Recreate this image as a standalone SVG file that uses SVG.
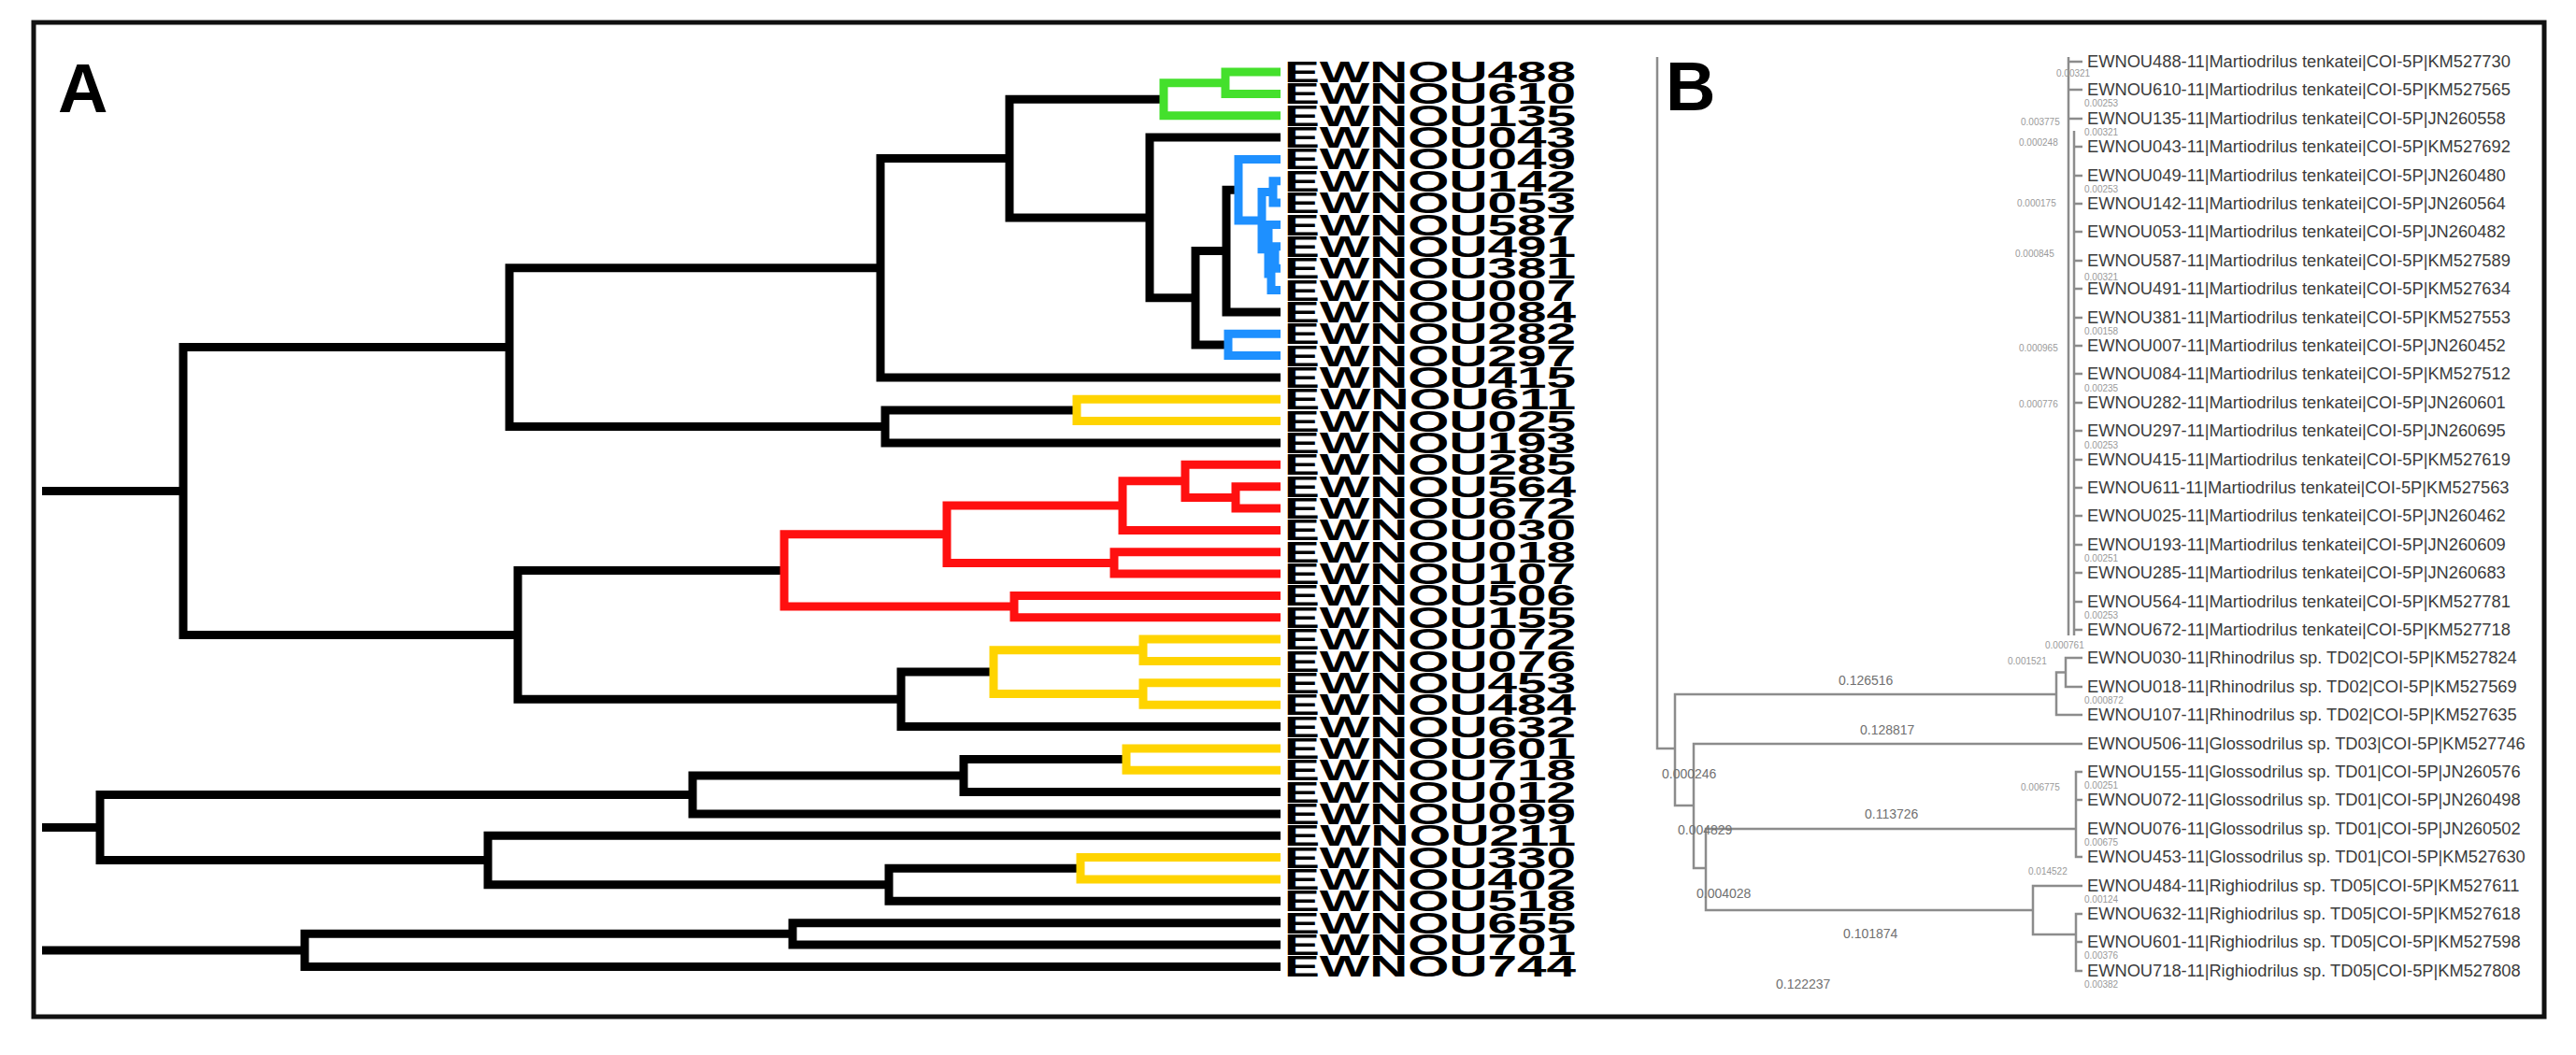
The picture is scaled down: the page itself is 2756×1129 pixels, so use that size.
<svg xmlns="http://www.w3.org/2000/svg" width="2756" height="1129" viewBox="0 0 2756 1129">
<style>
.bk{fill:none;stroke:#000;stroke-width:9;stroke-linejoin:miter}
.gr{fill:none;stroke:#44e02c;stroke-width:9}
.bl{fill:none;stroke:#1e90ff;stroke-width:9}
.ye{fill:none;stroke:#ffd400;stroke-width:9}
.rd{fill:none;stroke:#ff1010;stroke-width:9}
.la{font-family:"Liberation Sans",Arial,sans-serif;font-size:31px;font-weight:bold;fill:#000}
.tb{fill:none;stroke:#8c8c8c;stroke-width:2.5}
.lb{font-family:"Liberation Sans",Arial,sans-serif;font-size:18.3px;fill:#3c3c3c}
.bv{font-family:"Liberation Sans",Arial,sans-serif;font-size:14px;fill:#707070}
.sv{font-family:"Liberation Sans",Arial,sans-serif;font-size:10px;fill:#9a9a9a}
.pl{font-family:"Liberation Sans",Arial,sans-serif;font-size:74px;font-weight:bold;fill:#000}
</style>
<rect x="0" y="0" width="2756" height="1129" fill="#fff"/>
<rect x="36" y="24" width="2686" height="1064" fill="none" stroke="#111" stroke-width="5"/>
<text class="pl" x="62" y="120">A</text>
<text class="pl" x="1782" y="118">B</text>

<g id="treeA-connectors">
<!-- tree 1 -->
<path class="bk" d="M45 525.5H196"/>
<path class="bk" d="M545 371.6H196V679.4H554"/>
<path class="bk" d="M942 286.8H545V456.5H947"/>
<path class="bk" d="M1080 169.6H942V403.9H1370"/>
<path class="bk" d="M1245 106.2H1080V233H1230"/>
<path class="gr" d="M1311 88.7H1245V123.7H1370"/>
<path class="gr" d="M1370 77H1311V100.4H1370"/>
<path class="bk" d="M1370 147.1H1230V318.8H1279"/>
<path class="bk" d="M1312 268.6H1279V368.9H1314"/>
<path class="bk" d="M1325 203.3H1312V333.9H1370"/>
<path class="bl" d="M1370 170.4H1325V236.1H1350"/>
<path class="bl" d="M1362 205.5H1350V266.8H1357"/>
<path class="bl" d="M1370 193.8H1362V217.1H1370"/>
<path class="bl" d="M1370 240.5H1357V293H1360"/>
<path class="bl" d="M1364 275.5H1360V310.5H1370"/>
<path class="bl" d="M1370 263.8H1364V287.2H1370"/>
<path class="bl" d="M1370 357.2H1314V380.6H1370"/>
<path class="bk" d="M1152 439H947V474H1370"/>
<path class="ye" d="M1370 427.3H1152V450.6H1370"/>
<path class="bk" d="M839 610.4H554V748.3H964"/>
<path class="rd" d="M1013 571.8H839V649.1H1085"/>
<path class="rd" d="M1201 541.1H1013V602.4H1192"/>
<path class="rd" d="M1268 514.8H1201V567.4H1370"/>
<path class="rd" d="M1370 497.3H1268V532.4H1322"/>
<path class="rd" d="M1370 520.7H1322V544H1370"/>
<path class="rd" d="M1370 590.7H1192V614.1H1370"/>
<path class="rd" d="M1370 637.4H1085V660.8H1370"/>
<path class="bk" d="M1063 719.1H964V777.5H1370"/>
<path class="ye" d="M1223 695.8H1063V742.5H1223"/>
<path class="ye" d="M1370 684.1H1223V707.5H1370"/>
<path class="ye" d="M1370 730.8H1223V754.2H1370"/>
<!-- tree 2 -->
<path class="bk" d="M45 885.5H107"/>
<path class="bk" d="M741 850.5H107V920.6H522"/>
<path class="bk" d="M1031 830H741V870.9H1370"/>
<path class="bk" d="M1205 812.5H1031V847.6H1370"/>
<path class="ye" d="M1370 800.9H1205V824.2H1370"/>
<path class="bk" d="M1370 894.3H522V946.8H951"/>
<path class="bk" d="M1156 929.3H951V964.3H1370"/>
<path class="ye" d="M1370 917.6H1156V941H1370"/>
<!-- tree 3 -->
<path class="bk" d="M45 1016.9H326"/>
<path class="bk" d="M848 999.3H326V1034.4H1370"/>
<path class="bk" d="M1370 987.7H848V1011H1370"/>
</g>

<g id="treeA-labels">
<text class="la" x="1374" y="88" textLength="312" lengthAdjust="spacingAndGlyphs">EWNOU488</text>
<text class="la" x="1374" y="111.4" textLength="312" lengthAdjust="spacingAndGlyphs">EWNOU610</text>
<text class="la" x="1374" y="134.7" textLength="312" lengthAdjust="spacingAndGlyphs">EWNOU135</text>
<text class="la" x="1374" y="158.1" textLength="312" lengthAdjust="spacingAndGlyphs">EWNOU043</text>
<text class="la" x="1374" y="181.4" textLength="312" lengthAdjust="spacingAndGlyphs">EWNOU049</text>
<text class="la" x="1374" y="204.8" textLength="312" lengthAdjust="spacingAndGlyphs">EWNOU142</text>
<text class="la" x="1374" y="228.1" textLength="312" lengthAdjust="spacingAndGlyphs">EWNOU053</text>
<text class="la" x="1374" y="251.5" textLength="312" lengthAdjust="spacingAndGlyphs">EWNOU587</text>
<text class="la" x="1374" y="274.8" textLength="312" lengthAdjust="spacingAndGlyphs">EWNOU491</text>
<text class="la" x="1374" y="298.2" textLength="312" lengthAdjust="spacingAndGlyphs">EWNOU381</text>
<text class="la" x="1374" y="321.5" textLength="312" lengthAdjust="spacingAndGlyphs">EWNOU007</text>
<text class="la" x="1374" y="344.9" textLength="312" lengthAdjust="spacingAndGlyphs">EWNOU084</text>
<text class="la" x="1374" y="368.2" textLength="312" lengthAdjust="spacingAndGlyphs">EWNOU282</text>
<text class="la" x="1374" y="391.6" textLength="312" lengthAdjust="spacingAndGlyphs">EWNOU297</text>
<text class="la" x="1374" y="414.9" textLength="312" lengthAdjust="spacingAndGlyphs">EWNOU415</text>
<text class="la" x="1374" y="438.3" textLength="312" lengthAdjust="spacingAndGlyphs">EWNOU611</text>
<text class="la" x="1374" y="461.6" textLength="312" lengthAdjust="spacingAndGlyphs">EWNOU025</text>
<text class="la" x="1374" y="485" textLength="312" lengthAdjust="spacingAndGlyphs">EWNOU193</text>
<text class="la" x="1374" y="508.3" textLength="312" lengthAdjust="spacingAndGlyphs">EWNOU285</text>
<text class="la" x="1374" y="531.7" textLength="312" lengthAdjust="spacingAndGlyphs">EWNOU564</text>
<text class="la" x="1374" y="555" textLength="312" lengthAdjust="spacingAndGlyphs">EWNOU672</text>
<text class="la" x="1374" y="578.4" textLength="312" lengthAdjust="spacingAndGlyphs">EWNOU030</text>
<text class="la" x="1374" y="601.7" textLength="312" lengthAdjust="spacingAndGlyphs">EWNOU018</text>
<text class="la" x="1374" y="625.1" textLength="312" lengthAdjust="spacingAndGlyphs">EWNOU107</text>
<text class="la" x="1374" y="648.4" textLength="312" lengthAdjust="spacingAndGlyphs">EWNOU506</text>
<text class="la" x="1374" y="671.8" textLength="312" lengthAdjust="spacingAndGlyphs">EWNOU155</text>
<text class="la" x="1374" y="695.1" textLength="312" lengthAdjust="spacingAndGlyphs">EWNOU072</text>
<text class="la" x="1374" y="718.5" textLength="312" lengthAdjust="spacingAndGlyphs">EWNOU076</text>
<text class="la" x="1374" y="741.8" textLength="312" lengthAdjust="spacingAndGlyphs">EWNOU453</text>
<text class="la" x="1374" y="765.2" textLength="312" lengthAdjust="spacingAndGlyphs">EWNOU484</text>
<text class="la" x="1374" y="788.5" textLength="312" lengthAdjust="spacingAndGlyphs">EWNOU632</text>
<text class="la" x="1374" y="811.9" textLength="312" lengthAdjust="spacingAndGlyphs">EWNOU601</text>
<text class="la" x="1374" y="835.2" textLength="312" lengthAdjust="spacingAndGlyphs">EWNOU718</text>
<text class="la" x="1374" y="858.6" textLength="312" lengthAdjust="spacingAndGlyphs">EWNOU012</text>
<text class="la" x="1374" y="881.9" textLength="312" lengthAdjust="spacingAndGlyphs">EWNOU099</text>
<text class="la" x="1374" y="905.3" textLength="312" lengthAdjust="spacingAndGlyphs">EWNOU211</text>
<text class="la" x="1374" y="928.6" textLength="312" lengthAdjust="spacingAndGlyphs">EWNOU330</text>
<text class="la" x="1374" y="952" textLength="312" lengthAdjust="spacingAndGlyphs">EWNOU402</text>
<text class="la" x="1374" y="975.3" textLength="312" lengthAdjust="spacingAndGlyphs">EWNOU518</text>
<text class="la" x="1374" y="998.7" textLength="312" lengthAdjust="spacingAndGlyphs">EWNOU655</text>
<text class="la" x="1374" y="1022" textLength="312" lengthAdjust="spacingAndGlyphs">EWNOU701</text>
<text class="la" x="1374" y="1045.4" textLength="312" lengthAdjust="spacingAndGlyphs">EWNOU744</text>
</g>

<g id="treeB-connectors">
<path class="tb" d="M1773 61V801H1792"/>
<path class="tb" d="M2200 743H1792V862H1812"/>
<path class="tb" d="M2210 719.5H2200V765H2228"/>
<path class="tb" d="M2228 704H2210V735H2228"/>
<path class="tb" d="M2228 796H1812V929H1825"/>
<path class="tb" d="M2221 887H1825V974H2175"/>
<path class="tb" d="M2228 826H2221V917H2228M2221 856H2228"/>
<path class="tb" d="M2228 948H2175V1000H2221"/>
<path class="tb" d="M2228 978H2221V1039H2228M2221 1008H2228"/>
<path class="tb" d="M2213 61V680M2219 140V680"/>
<path class="tb" d="M2213 66H2228M2213 96H2228M2213 127H2228M2219 157H2228M2219 188H2228M2219 218H2228M2219 248H2228M2219 279H2228M2219 309H2228M2219 340H2228M2219 370H2228M2219 400H2228M2219 431H2228M2219 461H2228M2219 492H2228M2219 522H2228M2219 552H2228M2219 583H2228M2219 613H2228M2219 644H2228M2219 674H2228"/>
</g>

<g id="treeB-labels">
<text class="lb" x="2233" y="72">EWNOU488-11|Martiodrilus tenkatei|COI-5P|KM527730</text>
<text class="lb" x="2233" y="102">EWNOU610-11|Martiodrilus tenkatei|COI-5P|KM527565</text>
<text class="lb" x="2233" y="133">EWNOU135-11|Martiodrilus tenkatei|COI-5P|JN260558</text>
<text class="lb" x="2233" y="163">EWNOU043-11|Martiodrilus tenkatei|COI-5P|KM527692</text>
<text class="lb" x="2233" y="194">EWNOU049-11|Martiodrilus tenkatei|COI-5P|JN260480</text>
<text class="lb" x="2233" y="224">EWNOU142-11|Martiodrilus tenkatei|COI-5P|JN260564</text>
<text class="lb" x="2233" y="254">EWNOU053-11|Martiodrilus tenkatei|COI-5P|JN260482</text>
<text class="lb" x="2233" y="285">EWNOU587-11|Martiodrilus tenkatei|COI-5P|KM527589</text>
<text class="lb" x="2233" y="315">EWNOU491-11|Martiodrilus tenkatei|COI-5P|KM527634</text>
<text class="lb" x="2233" y="346">EWNOU381-11|Martiodrilus tenkatei|COI-5P|KM527553</text>
<text class="lb" x="2233" y="376">EWNOU007-11|Martiodrilus tenkatei|COI-5P|JN260452</text>
<text class="lb" x="2233" y="406">EWNOU084-11|Martiodrilus tenkatei|COI-5P|KM527512</text>
<text class="lb" x="2233" y="437">EWNOU282-11|Martiodrilus tenkatei|COI-5P|JN260601</text>
<text class="lb" x="2233" y="467">EWNOU297-11|Martiodrilus tenkatei|COI-5P|JN260695</text>
<text class="lb" x="2233" y="498">EWNOU415-11|Martiodrilus tenkatei|COI-5P|KM527619</text>
<text class="lb" x="2233" y="528">EWNOU611-11|Martiodrilus tenkatei|COI-5P|KM527563</text>
<text class="lb" x="2233" y="558">EWNOU025-11|Martiodrilus tenkatei|COI-5P|JN260462</text>
<text class="lb" x="2233" y="589">EWNOU193-11|Martiodrilus tenkatei|COI-5P|JN260609</text>
<text class="lb" x="2233" y="619">EWNOU285-11|Martiodrilus tenkatei|COI-5P|JN260683</text>
<text class="lb" x="2233" y="650">EWNOU564-11|Martiodrilus tenkatei|COI-5P|KM527781</text>
<text class="lb" x="2233" y="680">EWNOU672-11|Martiodrilus tenkatei|COI-5P|KM527718</text>
<text class="lb" x="2233" y="710">EWNOU030-11|Rhinodrilus sp. TD02|COI-5P|KM527824</text>
<text class="lb" x="2233" y="741">EWNOU018-11|Rhinodrilus sp. TD02|COI-5P|KM527569</text>
<text class="lb" x="2233" y="771">EWNOU107-11|Rhinodrilus sp. TD02|COI-5P|KM527635</text>
<text class="lb" x="2233" y="802">EWNOU506-11|Glossodrilus sp. TD03|COI-5P|KM527746</text>
<text class="lb" x="2233" y="832">EWNOU155-11|Glossodrilus sp. TD01|COI-5P|JN260576</text>
<text class="lb" x="2233" y="862">EWNOU072-11|Glossodrilus sp. TD01|COI-5P|JN260498</text>
<text class="lb" x="2233" y="893">EWNOU076-11|Glossodrilus sp. TD01|COI-5P|JN260502</text>
<text class="lb" x="2233" y="923">EWNOU453-11|Glossodrilus sp. TD01|COI-5P|KM527630</text>
<text class="lb" x="2233" y="954">EWNOU484-11|Righiodrilus sp. TD05|COI-5P|KM527611</text>
<text class="lb" x="2233" y="984">EWNOU632-11|Righiodrilus sp. TD05|COI-5P|KM527618</text>
<text class="lb" x="2233" y="1014">EWNOU601-11|Righiodrilus sp. TD05|COI-5P|KM527598</text>
<text class="lb" x="2233" y="1045">EWNOU718-11|Righiodrilus sp. TD05|COI-5P|KM527808</text>

<text class="bv" x="1967" y="733">0.126516</text>
<text class="bv" x="1990" y="786">0.128817</text>
<text class="bv" x="1995" y="876">0.113726</text>
<text class="bv" x="1972" y="1004">0.101874</text>
<text class="bv" x="1900" y="1058">0.122237</text>
<text class="bv" x="1778" y="833">0.000246</text>
<text class="bv" x="1795" y="893">0.004829</text>
<text class="bv" x="1815" y="961">0.004028</text>
<text class="sv" x="2170" y="936">0.014522</text>
<text class="sv" x="2162" y="846">0.006775</text>
<text class="sv" x="2148" y="711">0.001521</text>
<text class="sv" x="2188" y="694">0.000761</text>
<text class="sv" x="2162" y="134">0.003775</text>
<text class="sv" x="2160" y="156">0.000248</text>
<text class="sv" x="2158" y="221">0.000175</text>
<text class="sv" x="2156" y="275">0.000845</text>
<text class="sv" x="2160" y="376">0.000965</text>
<text class="sv" x="2160" y="436">0.000776</text>
<text class="sv" x="2200" y="82">0.00321</text>
<text class="sv" x="2230" y="114">0.00253</text>
<text class="sv" x="2230" y="145">0.00321</text>
<text class="sv" x="2230" y="206">0.00253</text>
<text class="sv" x="2230" y="300">0.00321</text>
<text class="sv" x="2230" y="358">0.00158</text>
<text class="sv" x="2230" y="419">0.00235</text>
<text class="sv" x="2230" y="480">0.00253</text>
<text class="sv" x="2230" y="601">0.00251</text>
<text class="sv" x="2230" y="662">0.00253</text>
<text class="sv" x="2230" y="753">0.000872</text>
<text class="sv" x="2230" y="844">0.00251</text>
<text class="sv" x="2230" y="905">0.00675</text>
<text class="sv" x="2230" y="966">0.00124</text>
<text class="sv" x="2230" y="1026">0.00376</text>
<text class="sv" x="2230" y="1057">0.00382</text>
</g>
</svg>
